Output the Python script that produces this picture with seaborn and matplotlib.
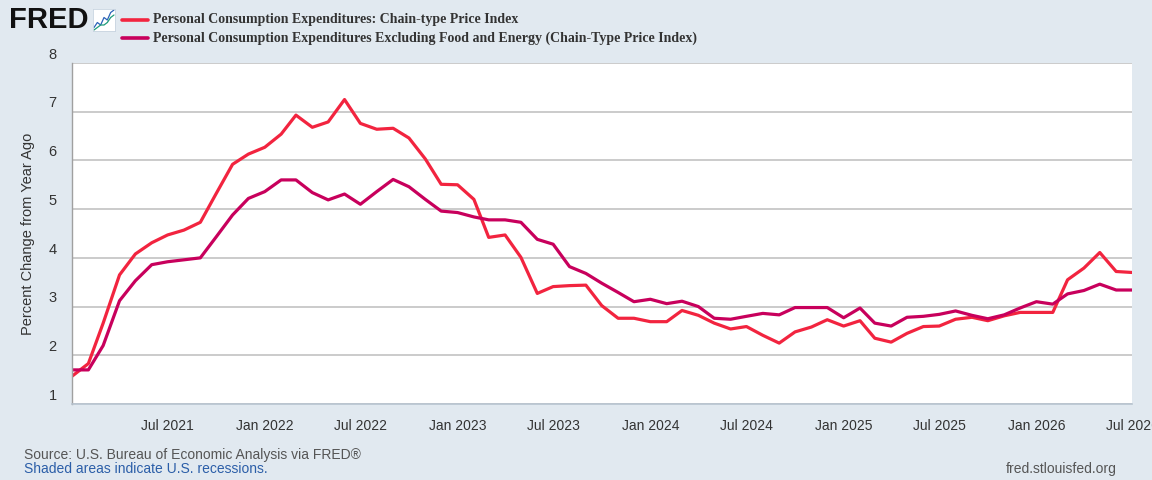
import pandas as pd
import numpy as np
import seaborn as sns
import matplotlib
matplotlib.use("Agg")
import matplotlib.pyplot as plt
import matplotlib.transforms as mtransforms

# monthly values, Jan 2021 .. Jul 2026
pce = [1.57, 1.83, 2.66, 3.65, 4.08, 4.31, 4.47, 4.57, 4.73, 5.32, 5.92, 6.13,
       6.27, 6.54, 6.93, 6.68, 6.79, 7.25, 6.76, 6.64, 6.66, 6.46, 6.03, 5.51,
       5.50, 5.20, 4.42, 4.47, 4.01, 3.27, 3.41, 3.43, 3.44, 3.02, 2.76, 2.76,
       2.69, 2.69, 2.92, 2.82, 2.66, 2.54, 2.59, 2.41, 2.25, 2.48, 2.58, 2.73,
       2.60, 2.71, 2.35, 2.27, 2.45, 2.59, 2.60, 2.74, 2.78, 2.71, 2.81, 2.88,
       2.88, 2.88, 3.55, 3.79, 4.11, 3.72, 3.70]
core = [1.70, 1.70, 2.20, 3.12, 3.53, 3.86, 3.92, 3.96, 4.00, 4.43, 4.88, 5.22,
        5.36, 5.60, 5.60, 5.34, 5.19, 5.31, 5.10, 5.36, 5.61, 5.46, 5.20, 4.96,
        4.93, 4.84, 4.78, 4.78, 4.73, 4.38, 4.28, 3.82, 3.68, 3.48, 3.29, 3.10,
        3.15, 3.06, 3.11, 3.00, 2.76, 2.74, 2.80, 2.86, 2.83, 2.98, 2.98, 2.98,
        2.77, 2.97, 2.66, 2.60, 2.78, 2.80, 2.84, 2.91, 2.82, 2.75, 2.83, 2.97,
        3.10, 3.05, 3.26, 3.33, 3.46, 3.34, 3.34]
dates = pd.date_range("2021-01-01", periods=len(pce), freq="MS")

series_names = ["Personal Consumption Expenditures: Chain-type Price Index",
                "Personal Consumption Expenditures Excluding Food and Energy (Chain-Type Price Index)"]
colors = ["#f2243f", "#c8005c"]

x_ticks = pd.date_range("2021-07-01", "2026-07-01", freq="6MS")
y_ticks = [1, 2, 3, 4, 5, 6, 7, 8]

df = pd.DataFrame({
    "date": np.concatenate([dates, dates]),
    "value": pce + core,
    "series": [series_names[0]] * len(pce) + [series_names[1]] * len(core),
})

sns.set_style("white")
plt.rcParams["font.family"] = ["Liberation Sans", "DejaVu Sans"]

bg = "#e1e9f0"
fig = plt.figure(figsize=(11.52, 4.8), dpi=100, facecolor=bg)
ax = fig.add_axes([72 / 1152, 76 / 480, 1060 / 1152, 341 / 480])
ax.set_facecolor("white")

sns.lineplot(data=df, x="date", y="value", hue="series", palette=colors,
             linewidth=2.3, ax=ax, legend=False)

ax.set_xlim(pd.Timestamp("2021-01-01"), pd.Timestamp("2026-07-01"))
ax.set_ylim(1, 8)
ax.set_yticks(y_ticks)
ax.set_yticklabels([str(v) for v in y_ticks])
ax.set_xticks(x_ticks)
ax.set_xticklabels([d.strftime("%b %Y") for d in x_ticks])
ax.grid(axis="y", color="#c2c2c2", linewidth=1.2)
ax.set_axisbelow(True)
ax.set_xlabel("")
ax.set_ylabel("Percent Change from Year Ago", fontsize=10.5, color="#333333", labelpad=10)

for side in ["top", "right"]:
    ax.spines[side].set_visible(False)
ax.spines["left"].set_color("#a0a0a0")
ax.spines["bottom"].set_color("#b8c4d0")
ax.spines["left"].set_linewidth(1)
ax.spines["bottom"].set_linewidth(1.2)

ax.tick_params(axis="y", length=0, pad=11, labelsize=10.5, labelcolor="#333333")
ax.tick_params(axis="x", length=8, width=0.8, color="#c6d4e4", pad=3,
               labelsize=10, labelcolor="#333333")
shift = mtransforms.ScaledTranslation(0, 7 / 72, fig.dpi_scale_trans)
for lab in ax.get_yticklabels():
    lab.set_transform(lab.get_transform() + shift)

# header: logo + legend
fig.text(9 / 1152, 1 - 20 / 480, "FRED", fontsize=21, fontweight="bold",
         color="#111111", va="center", ha="left")
icon = fig.add_axes([93 / 1152, 1 - 31 / 480, 22 / 1152, 22 / 480])
icon.set_facecolor("white")
icon_a = [1, 3, 2, 5, 4, 7, 8]
icon_b = [0, 1, 2, 2, 3, 5, 6]
icon.plot(icon_a, color="#2a62b8", linewidth=0.9)
icon.plot(icon_b, color="#1e9c7a", linewidth=0.9)
icon.set_xticks([])
icon.set_yticks([])
for s in icon.spines.values():
    s.set_color("#c8d4e0")
    s.set_linewidth(0.6)

for i, (name, col) in enumerate(zip(series_names, colors)):
    y = 1 - (20 + 18 * i) / 480
    fig.add_artist(plt.Line2D([122 / 1152, 148 / 1152], [y, y], color=col,
                              linewidth=2.6, transform=fig.transFigure))
    fig.text(153 / 1152, y, name, fontsize=10, fontweight="bold",
             family=["Liberation Serif", "DejaVu Serif"], color="#333333",
             va="center", ha="left")

# footer
fig.text(24 / 1152, 1 - 455 / 480, "Source: U.S. Bureau of Economic Analysis via FRED\u00ae",
         fontsize=10, color="#555555", va="center", ha="left")
fig.text(24 / 1152, 1 - 469 / 480, "Shaded areas indicate U.S. recessions.",
         fontsize=10, color="#2b5ea8", va="center", ha="left")
fig.text(1117 / 1152, 1 - 469 / 480, "fred.stlouisfed.org",
         fontsize=10, color="#555555", va="center", ha="right")

fig.savefig("out.png", dpi=100, facecolor=bg)
